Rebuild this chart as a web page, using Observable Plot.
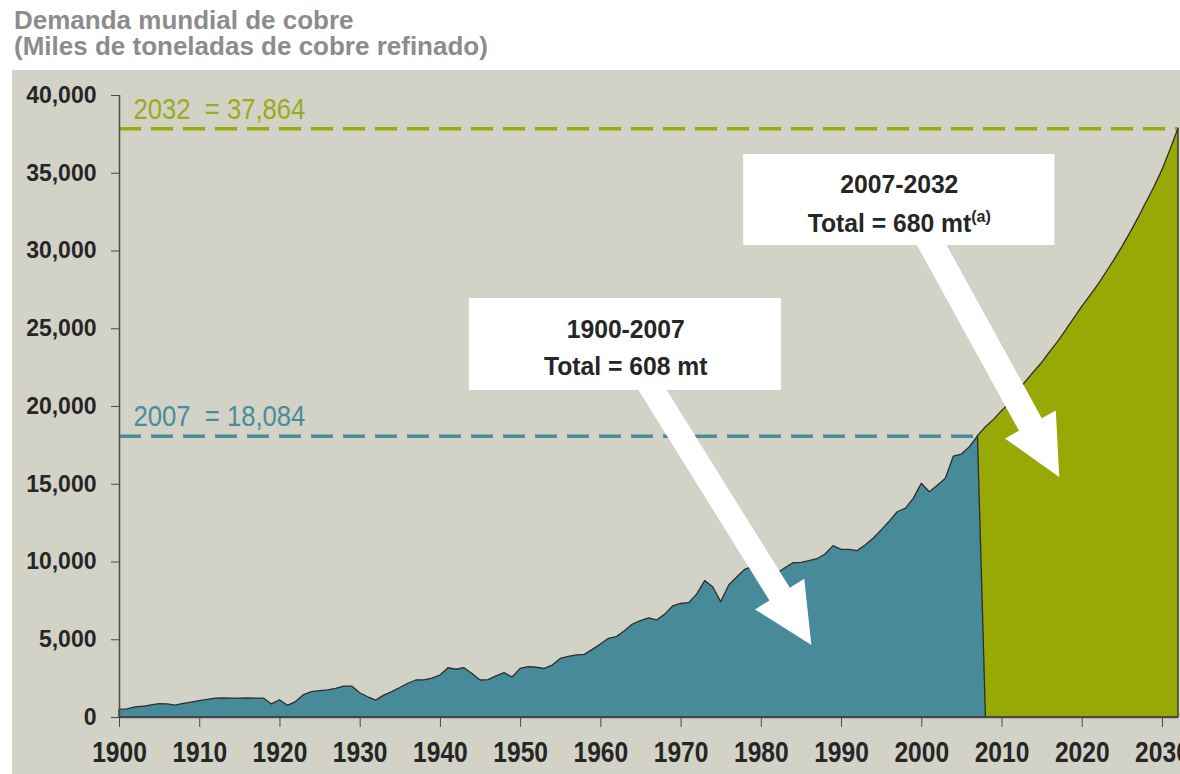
<!DOCTYPE html>
<html><head><meta charset="utf-8">
<script src="https://cdn.jsdelivr.net/npm/d3@7"></script>
<script src="https://cdn.jsdelivr.net/npm/@observablehq/plot@0.6"></script>
<style>
html,body{margin:0;padding:0;background:#fff;width:1180px;height:774px;overflow:hidden;}
#title{position:absolute;left:14px;top:7px;font-family:"Liberation Sans",Arial,sans-serif;font-weight:bold;font-size:26px;line-height:26px;color:#8c8c8c;white-space:nowrap;}
#chart{position:absolute;left:12px;top:70px;width:1168px;height:704px;background:#d2d2c6;overflow:hidden;}
</style></head>
<body>
<div id="title">Demanda mundial de cobre<br>(Miles de toneladas de cobre refinado)</div>
<div id="chart"></div>
<script>
// ---- data ----
const histYears = d3.range(1900, 2008);
const histValues = [
  500, 520, 650, 690, 780, 860, 840, 760, 880, 960,
  1050, 1140, 1220, 1230, 1220, 1220, 1230, 1220, 1220, 840,
  1110, 750, 990, 1440, 1630, 1700, 1740, 1840, 1990, 1990,
  1560, 1300, 1090, 1410, 1630, 1900, 2170, 2380, 2390, 2500,
  2700, 3170, 3070, 3170, 2800, 2380, 2400, 2650, 2850, 2570,
  3130, 3240, 3200, 3130, 3340, 3770, 3900, 3990, 4030, 4350,
  4700, 5060, 5170, 5550, 5980, 6200, 6370, 6240, 6600, 7140,
  7300, 7350, 7900, 8770, 8380, 7420, 8490, 9000, 9500, 9700,
  9400, 9300, 9250, 9600, 9920, 9950, 10050, 10180, 10480, 11020,
  10780, 10780, 10700, 11060, 11500, 12030, 12600, 13200, 13420, 14060,
  15030, 14490, 14900, 15350, 16780, 16910, 17380, 18084
];
const projYears = d3.range(2007, 2033);
const projValues = [
  18084, 18670, 19140, 19700, 20200, 20900, 21600, 22200, 22800, 23500,
  24150, 24900, 25650, 26400, 27100, 27800, 28600, 29400, 30250, 31150,
  32100, 33100, 34100, 35200, 36500, 37864
];
const yTicks = d3.range(0, 40001, 5000);
const xTicks = d3.range(1900, 2031, 10);
const ref2007 = 18084;
const ref2032 = 37864;
const boxLabels1 = ["1900-2007", "2007-2032"];
const boxLabels2 = ["Total = 608 mt", "Total = 680 mt"];

const hist = histYears.map((year, i) => ({year, value: histValues[i]}));
const proj = projYears.map((year, i) => ({year, value: projValues[i]}));

// annotation placement (data units)
const boxes = [
  {x1: 1943.6, x2: 1982.5, y1: 21030, y2: 26945, cx: 1963.1, b1: 24437, b2: 21994, l1: boxLabels1[0], l2: boxLabels2[0]},
  {x1: 1977.8, x2: 2016.6, y1: 30354, y2: 36206, cx: 1997.2, b1: 33698, b2: 31254, l1: boxLabels1[1], l2: boxLabels2[1]}
];
const arrows = [
  {from: [1966.5, 21030], to: [1986.3, 4630], shaft: 24, head: 58, headLen: 60},
  {from: [2001.3, 30354], to: [2017.2, 15434], shaft: 26, head: 58, headLen: 60}
];

function arrowRender(a) {
  return (index, scales) => {
    const x0 = scales.x(a.from[0]), y0 = scales.y(a.from[1]);
    const x1 = scales.x(a.to[0]), y1 = scales.y(a.to[1]);
    const L = Math.hypot(x1 - x0, y1 - y0);
    const ux = (x1 - x0) / L, uy = (y1 - y0) / L, px = -uy, py = ux;
    const sx = x0 - ux * 15, sy = y0 - uy * 15;
    const bx = x1 - ux * a.headLen, by = y1 - uy * a.headLen;
    const sw = a.shaft / 2, hw = a.head / 2;
    const pts = [[sx + px * sw, sy + py * sw], [bx + px * sw, by + py * sw], [bx + px * hw, by + py * hw], [x1, y1],
                 [bx - px * hw, by - py * hw], [bx - px * sw, by - py * sw], [sx - px * sw, sy - py * sw]];
    const path = document.createElementNS("http://www.w3.org/2000/svg", "path");
    path.setAttribute("d", "M" + pts.map(p => p[0].toFixed(2) + "," + p[1].toFixed(2)).join("L") + "Z");
    path.setAttribute("fill", "#ffffff");
    return path;
  };
}

const arial = "'Liberation Sans',Arial,sans-serif";
const fmt = d3.format(",");

const plot = Plot.plot({
  width: 1168, height: 704,
  marginLeft: 107, marginRight: 2, marginTop: 25, marginBottom: 57,
  x: {domain: [1900, 2032]},
  y: {domain: [0, 40000]},
  style: {background: "transparent", overflow: "visible"},
  marks: [
    Plot.ruleY([ref2032], {x1: 1900, x2: 2032, stroke: "#9aab0e", strokeWidth: 3.5, strokeDasharray: "22 10"}),
    Plot.ruleY([ref2007], {x1: 1900, x2: 2007, stroke: "#4a8c9c", strokeWidth: 3.5, strokeDasharray: "22 10"}),
    Plot.areaY(proj, {x: "year", y: "value", fill: "#98a805", stroke: "#2e2e2e", strokeWidth: 1.3}),
    Plot.areaY(hist.concat([{year: 2008, value: 0}]), {x: "year", y: "value", fill: "#478a9a", stroke: "#2e2e2e", strokeWidth: 1.3}),
    Plot.ruleX([1900], {y1: 0, y2: 40000, stroke: "#4a4a4a", strokeWidth: 1.5}),
    Plot.ruleY([0], {x1: 1900, x2: 2032, stroke: "#4a4a4a", strokeWidth: 1.5}),
    Plot.axisY({ticks: yTicks, tickFormat: fmt, tickSize: 8, tickPadding: 15, label: null,
      fontSize: 23, fontWeight: "bold", fontFamily: arial, color: "#262626", stroke: "#4a4a4a"}),
    Plot.axisX({ticks: xTicks, tickFormat: d => String(d), tickSize: 10, tickPadding: 13, label: null,
      fontSize: 30, fontWeight: "bold", fontFamily: arial, color: "#262626", stroke: "#4a4a4a"}),
    Plot.rect(boxes, {x1: "x1", x2: "x2", y1: "y1", y2: "y2", fill: "#ffffff"}),
    ...arrows.map(arrowRender),
    Plot.text(boxes, {x: "cx", y: "b1", text: "l1", lineAnchor: "bottom", fontSize: 26, fontWeight: "bold", fontFamily: arial, fill: "#262626"}),
    Plot.text(boxes, {x: "cx", y: "b2", text: "l2", lineAnchor: "bottom", fontSize: 26, fontWeight: "bold", fontFamily: arial, fill: "#262626"}),
    Plot.text([ref2032], {x: 1900, y: d => d, text: d => "2032\u00a0\u00a0= " + fmt(d), dx: 14, dy: -10, lineAnchor: "bottom", textAnchor: "start", fontSize: 30, fontFamily: arial, fill: "#9aab1c"}),
    Plot.text([ref2007], {x: 1900, y: d => d, text: d => "2007\u00a0\u00a0= " + fmt(d), dx: 14, dy: -10, lineAnchor: "bottom", textAnchor: "start", fontSize: 30, fontFamily: arial, fill: "#4a8c9c"})
  ]
});

// superscript footnote marker on the projection total
d3.select(plot).selectAll("text").filter(function() { return this.textContent === boxLabels2[1]; })
  .append("tspan").attr("dy", "-10").attr("font-size", "17").text("(a)");

document.getElementById("chart").appendChild(plot);

// condensed look of the original typeface
function condense(sel, factor) {
  sel.each(function() {
    const len = this.getComputedTextLength();
    this.setAttribute("textLength", (len * factor).toFixed(1));
    this.setAttribute("lengthAdjust", "spacingAndGlyphs");
  });
}
const svg = d3.select(plot);
condense(svg.selectAll('g[aria-label="x-axis tick label"] text'), 0.82);
condense(svg.selectAll("text").filter(function() {
  const t = this.textContent;
  return boxLabels1.includes(t) || boxLabels2.some(s => t.startsWith(s));
}), 0.95);
condense(svg.selectAll("text").filter(function() {
  const t = this.textContent;
  return t.startsWith("2032\u00a0") || t.startsWith("2007\u00a0");
}), 0.855);
</script>
</body></html>
